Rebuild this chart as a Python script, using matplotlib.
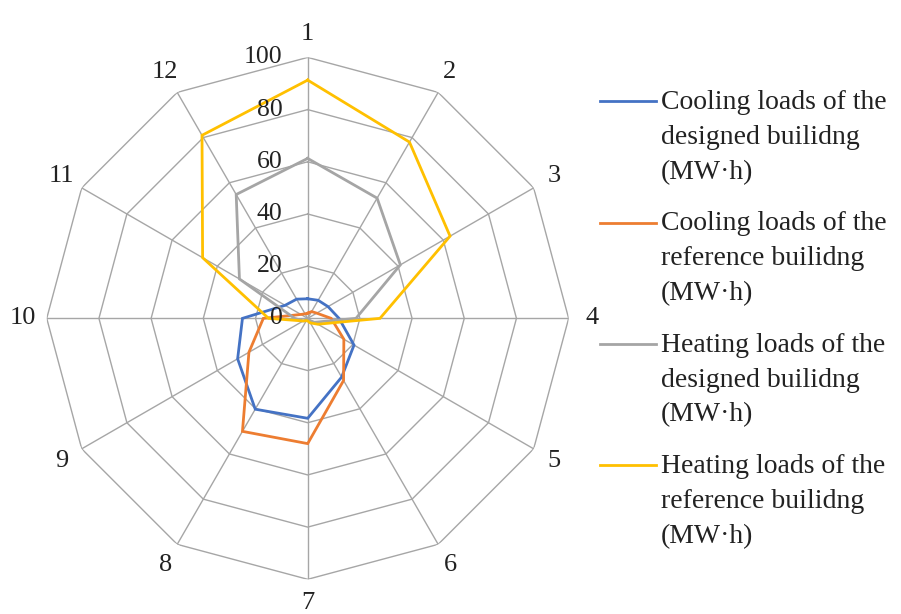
import numpy as np
import matplotlib
matplotlib.use("Agg")
import matplotlib.pyplot as plt
from matplotlib.legend_handler import HandlerLine2D
from matplotlib.lines import Line2D

plt.rcParams['font.family'] = ['Liberation Serif', 'DejaVu Serif']

# months 1..12
months = [str(i) for i in range(1, 13)]
rings = [0, 20, 40, 60, 80, 100]

cooling_designed = [7.5, 8, 9, 12, 20.5, 26, 38.3, 40.2, 31, 25, 10, 8.5]
cooling_reference = [2, 3, 4, 9, 16, 27.5, 48, 50, 26, 17, 3, 2]
heating_designed = [61.3, 53.2, 41, 18.5, 3, 1, 0.5, 1, 2, 5, 30.2, 54.8]
heating_reference = [91.3, 78, 63, 27.7, 4.5, 2, 1, 1, 2, 15, 46.5, 81]

series_names = [
    "Cooling loads of the\ndesigned builidng\n(MW\u00b7h)",
    "Cooling loads of the\nreference builidng\n(MW\u00b7h)",
    "Heating loads of the\ndesigned builidng\n(MW\u00b7h)",
    "Heating loads of the\nreference builidng\n(MW\u00b7h)",
]
colors = ['#4472C4', '#ED7D31', '#A5A5A5', '#FFC000']


class TopLineHandler(HandlerLine2D):
    # put the legend line next to the first text line, like excel does
    def create_artists(self, legend, orig_handle, xdescent, ydescent,
                       width, height, fontsize, trans):
        arts = super().create_artists(legend, orig_handle, xdescent, ydescent,
                                      width, height, fontsize, trans)
        shift = fontsize * 1.30
        for a in arts:
            if isinstance(a, Line2D):
                a.set_ydata(np.asarray(a.get_ydata()) + shift)
        return arts


fig = plt.figure(figsize=(9.01, 6.14), dpi=100)
ax = fig.add_axes([0.0518, 0.0565, 0.5794, 0.850], projection='polar')
ax.set_theta_zero_location('N')
ax.set_theta_direction(-1)

n = len(months)
angles = np.arange(n) * 2 * np.pi / n
closed = np.append(angles, angles[0])

# polygon grid + spokes
grid_col = '#a6a6a6'
for r in rings[1:]:
    ax.plot(closed, [r] * (n + 1), color=grid_col, lw=1.0, zorder=1)
for a in angles:
    ax.plot([a, a], [0, 100], color=grid_col, lw=1.0, zorder=1)

data = [cooling_designed, cooling_reference, heating_designed, heating_reference]
handles = []
for vals, c, name in zip(data, colors, series_names):
    v = np.append(vals, vals[0])
    ln, = ax.plot(closed, v, color=c, lw=2.0, zorder=3, label=name,
                  solid_joinstyle='miter')
    handles.append(ln)

ax.set_ylim(0, 100)
ax.grid(False)
ax.spines['polar'].set_visible(False)
ax.set_yticks([])
ax.set_xticks(angles)
ax.set_xticklabels(months, fontsize=19, color='#222222')
ax.tick_params(axis='x', pad=10, length=0)

for r in rings:
    ax.annotate(str(r), xy=(0, r), xytext=(-18, 0), textcoords='offset points',
                ha='right', va='center', fontsize=18.5, color='#222222')

leg = fig.legend(handles=handles, loc='upper left', bbox_to_anchor=(0.666, 0.853),
                 frameon=False, fontsize=20, handlelength=2.0, handletextpad=0.2,
                 labelspacing=0.95, borderpad=0, borderaxespad=0,
                 handler_map={Line2D: TopLineHandler()})
for t in leg.get_texts():
    t.set_linespacing(1.52)
    t.set_color('#222222')

fig.savefig('out.png', dpi=100)
